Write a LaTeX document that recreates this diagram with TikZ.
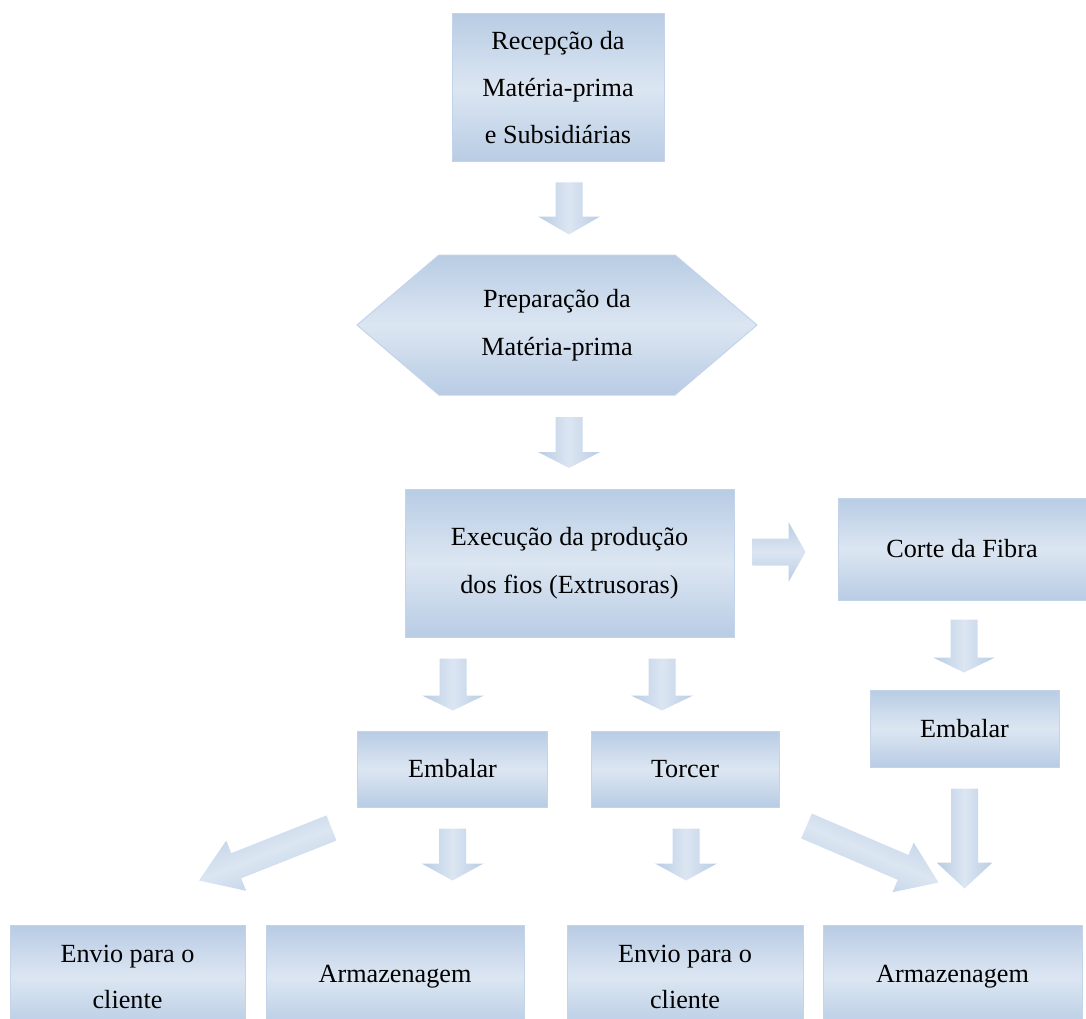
\documentclass[tikz,border=0pt]{standalone}
\usepackage{fontspec}
\setmainfont{Liberation Serif}
\usetikzlibrary{calc}
\definecolor{azul}{HTML}{B8CCE4}
\definecolor{claro}{HTML}{DCE6F2}
\definecolor{borda}{HTML}{C3D4EA}
\tikzset{
	caixa/.style = {rectangle, draw=borda, line width=1pt, top color=azul, bottom color=azul, middle color=claro, inner sep=0pt, align=center, font=\fontsize{26.2}{46}\selectfont},
	setafill/.style = {top color=azul, bottom color=azul, middle color=claro}
}
% block arrow: start, angle, length, head length, head half width
\newcommand{\seta}[5]{%
	\shade[setafill, shading angle={-(#2)}]
		($#1+({#2+90}:13.5)$) -- ($#1+(#2:{#3-#4})+({#2+90}:13.5)$) -- ($#1+(#2:{#3-#4})+({#2+90}:#5)$)
		-- ($#1+(#2:#3)$)
		-- ($#1+(#2:{#3-#4})+({#2-90}:#5)$) -- ($#1+(#2:{#3-#4})+({#2-90}:13.5)$) -- ($#1+({#2-90}:13.5)$) -- cycle;}

\begin{document}
\begin{tikzpicture}[x=1pt, y=-1pt]
		\useasboundingbox (0,0) rectangle (1086,1019);
		\node (rec)[caixa, minimum width=212pt, minimum height=148pt, font=\fontsize{26.2}{47}\selectfont] at (558,88) {Recepção da\\Matéria-prima\\e Subsidiárias};
		%
		\coordinate (p) at (557,325);
		\shade[setafill, draw=borda, line width=1pt] ($(p)+(-200,0)$) -- ($(p)+(-118,-70)$) -- ($(p)+(118,-70)$) -- ($(p)+(200,0)$) -- ($(p)+(118,70)$) -- ($(p)+(-118,70)$) -- cycle;
		\node (prep)[align=center, font=\fontsize{26.2}{48}\selectfont] at (p) {Preparação da\\Matéria-prima};
		%
		\node (exe)[caixa, minimum width=329pt, minimum height=148pt, font=\fontsize{26.2}{48}\selectfont] at (569.5,563) {Execução da produção\\dos fios (Extrusoras)};
		\node (corte)[caixa, minimum width=248pt, minimum height=102pt] at (962,549) {Corte da Fibra};
		\node (emb2)[caixa, minimum width=189pt, minimum height=77pt] at (964.5,728.5) {Embalar};
		\node (emb1)[caixa, minimum width=190pt, minimum height=76pt] at (452.5,769) {Embalar};
		\node (tor)[caixa, minimum width=188pt, minimum height=76pt] at (685,769) {Torcer};
		%
		\node (env1)[caixa, minimum width=235pt, minimum height=104pt] at (127.5,977) {Envio para o\\cliente};
		\node (arm1)[caixa, minimum width=258pt, minimum height=104pt] at (395,977) {Armazenagem};
		\node (env2)[caixa, minimum width=236pt, minimum height=104pt] at (685,977) {Envio para o\\cliente};
		\node (arm2)[caixa, minimum width=259pt, minimum height=104pt] at (952.5,977) {Armazenagem};
		%
		\coordinate (s1) at ($(rec.south)+(11,20)$);
		\coordinate (s2) at ($(prep.center)+(12,92)$);
		\coordinate (s3) at ($(exe.east)+(18,-11)$);
		\coordinate (s4) at ($(corte.south)+(2,19)$);
		\coordinate (s5) at ($(exe.south)+(-116.5,21)$);
		\coordinate (s6) at ($(exe.south)+(92.5,21)$);
		\coordinate (s7) at ($(emb1.south)+(0,21)$);
		\coordinate (s8) at ($(tor.south)+(1,21)$);
		\coordinate (s9) at ($(emb2.south)+(0,21)$);
		\coordinate (s10) at ($(emb1.south west)+(-25.5,20.5)$);
		\coordinate (s11) at ($(tor.south east)+(27,18.5)$);
		%
		\seta{(s1)}{90}{52}{18}{31}
		\seta{(s2)}{90}{51}{16}{31}
		\seta{(s3)}{0}{53}{17}{30}
		\seta{(s4)}{90}{53}{15}{31}
		\seta{(s5)}{90}{52}{15}{31}
		\seta{(s6)}{90}{52}{15}{31}
		\seta{(s7)}{90}{52}{17}{31}
		\seta{(s8)}{90}{52}{17}{31}
		\seta{(s9)}{90}{100}{26}{28}
		\seta{(s10)}{158.4}{142.5}{40}{27}
		\seta{(s11)}{23.2}{143.6}{38.5}{27}
	\end{tikzpicture}
\end{document}
